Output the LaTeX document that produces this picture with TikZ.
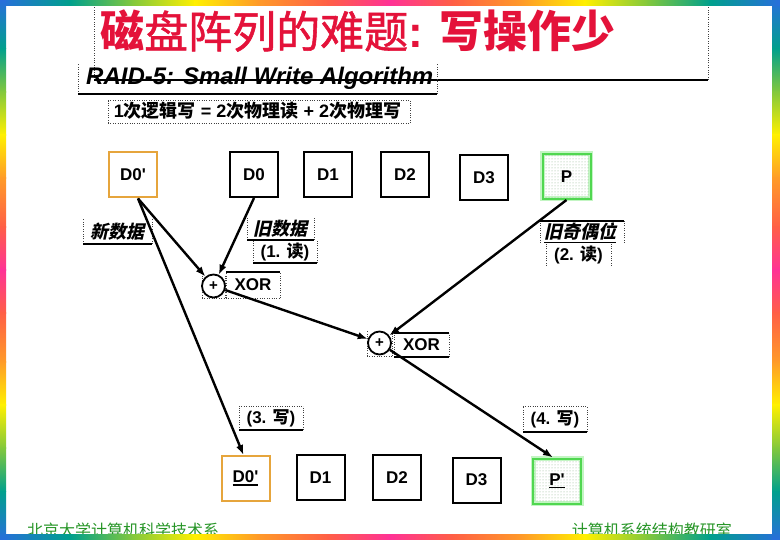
\documentclass[tikz,border=0pt]{standalone}
\usepackage{fontspec}
\setmainfont{Liberation Sans}
\newfontfamily\cjk{Noto Sans CJK SC}
\newfontfamily\cjkm[FakeBold=1.2]{Noto Sans CJK SC}
\newfontfamily\cjksl[FakeSlant=0.22]{Noto Sans CJK SC}
\usetikzlibrary{arrows.meta,patterns}
\newcommand\fsz[1]{\fontsize{#1}{#1}\selectfont}
\newcommand\myul[1]{\leavevmode\setbox0\hbox{#1}\rlap{\rule[-3pt]{\wd0}{1.6pt}}\box0}
\definecolor{titlered}{RGB}{228,18,58}
\definecolor{boxorange}{RGB}{230,165,60}
\definecolor{boxgreen}{RGB}{80,215,80}
\definecolor{glowgreen}{RGB}{195,245,195}
\definecolor{dotgreen}{RGB}{140,180,140}
\definecolor{footgreen}{RGB}{40,150,40}
\definecolor{rbB}{RGB}{40,110,220}
\definecolor{rbT}{RGB}{0,160,140}
\definecolor{rbG}{RGB}{130,200,60}
\definecolor{rbY}{RGB}{255,240,0}
\definecolor{rbO}{RGB}{255,155,40}
\definecolor{rbC}{RGB}{255,95,70}
\definecolor{rbP}{RGB}{255,50,150}
\tikzset{
  dotline/.style={line width=0.8pt, dash pattern=on 0.8pt off 1.6pt, black!75},
  solidline/.style={line width=1.2pt, black},
  ph/.style={inner sep=0pt, outer sep=0pt, append after command={
     (\tikzlastnode.south west) edge[dotline] (\tikzlastnode.north west)
     (\tikzlastnode.south east) edge[dotline] (\tikzlastnode.north east)}},
  phtd/.style={append after command={(\tikzlastnode.north west) edge[dotline] (\tikzlastnode.north east)}},
  phts/.style={append after command={(\tikzlastnode.north west) edge[solidline] (\tikzlastnode.north east)}},
  phbd/.style={append after command={(\tikzlastnode.south west) edge[dotline] (\tikzlastnode.south east)}},
  phbs/.style={append after command={(\tikzlastnode.south west) edge[solidline] (\tikzlastnode.south east)}},
  dbox/.style={draw, line width=2pt, minimum width=48pt, minimum height=45pt, inner sep=0pt,
     font=\bfseries\fsz{17}},
  obox/.style={dbox, draw=boxorange},
  gbox/.style={dbox, draw=boxgreen, preaction={draw=glowgreen, line width=5pt},
     pattern=dots, pattern color=dotgreen},
  xorc/.style={circle, draw, line width=1.8pt, minimum size=23pt, inner sep=0pt,
     font=\bfseries\fsz{15}},
  arr/.style={line width=2.4pt, -{Latex[length=10pt,width=7.5pt]}},
  lbl/.style={font=\bfseries\fsz{17}},
}
\begin{document}
\begin{tikzpicture}[x=1pt,y=-1pt]
\useasboundingbox (0,0) rectangle (780,540);
\fill[white] (0,0) rectangle (780,540);

% placeholder frames
\node[ph, phbs, minimum width=614pt, minimum height=78pt] (titlefr) at (401,41) {};
\node[ph, phbs, minimum width=359pt, minimum height=30pt] (raidfr) at (257.5,79) {};
\node[ph, phtd, phbd, minimum width=302pt, minimum height=23pt] (subfr) at (259,111.5) {};

% title texts
\node[anchor=base west, inner sep=0pt, text=titlered] (title) at (100,48)
  {{\cjk\fsz{44}\bfseries 磁}{\cjkm\fsz{44}盘阵列的难题}{\fsz{44}\bfseries: }{\cjk\fsz{44}\bfseries 写操作少}};
\node[anchor=west, inner sep=0pt] (raid) at (86,78)
  {\bfseries\itshape\fsz{24}RAID-5: Small Write Algorithm};
\node[inner sep=0pt] (sub) at (257.5,111)
  {\bfseries\fsz{18}1{\cjk 次逻辑写} = 2{\cjk 次物理读} + 2{\cjk 次物理写}};

% top row
\node[obox] (d0p) at (133,175) {D0\textquotesingle};
\node[dbox] (d0) at (254,174.5) {D0};
\node[dbox] (d1) at (328,174.5) {D1};
\node[dbox] (d2) at (405,174.5) {D2};
\node[dbox] (d3) at (484,177.5) {D3};
\node[gbox] (p) at (566.5,176.5) {P};

% bottom row
\node[obox] (bd0p) at (245.5,478.5) {\myul{D0\textquotesingle}};
\node[dbox] (bd1) at (320.5,477.5) {D1};
\node[dbox] (bd2) at (397,477.5) {D2};
\node[dbox] (bd3) at (476.5,480) {D3};
\node[gbox] (bpp) at (557,481) {\myul{P\textquotesingle}};

% labels
\node[ph, phbs, minimum width=69pt, minimum height=25pt] (newl) at (117.5,231.5)
  {\cjksl\bfseries\fsz{18}新数据};
\node[ph, phbs, minimum width=67pt, minimum height=22pt] (oldl) at (280.5,229)
  {\cjksl\bfseries\fsz{18}旧数据};
\node[ph, phbs, minimum width=64pt, minimum height=23pt] (rd1) at (285,251.5)
  {\bfseries\fsz{17}(1. {\cjk 读})};
\node[ph, phbd, minimum width=23pt, minimum height=23pt] (x1f) at (213.5,286.5) {};
\node[xorc] (x1) at (213.5,286) {+};
\node[ph, phts, phbd, minimum width=54pt, minimum height=26pt, lbl] (x1l) at (253,285) {XOR};
\node[ph, phbd, minimum width=25pt, minimum height=25pt] (x2f) at (379.5,343.5) {};
\node[xorc] (x2) at (379.5,343) {+};
\node[ph, phts, phbs, minimum width=55pt, minimum height=24pt, lbl] (x2l) at (421.5,345) {XOR};
\node[ph, phts, minimum width=84pt, minimum height=22pt] (oddf) at (582,232) {};
\node[inner sep=0pt] (odd) at (580,233) {\cjksl\bfseries\fsz{18}\underline{旧奇偶位}};
\node[ph, minimum width=65pt, minimum height=23pt] (rd2) at (578.5,254.5)
  {\bfseries\fsz{17}(2. {\cjk 读})};
\node[ph, phtd, phbs, minimum width=64pt, minimum height=24pt] (wr3) at (271,418)
  {\bfseries\fsz{17}(3. {\cjk 写})};
\node[ph, phtd, phbs, minimum width=64pt, minimum height=26pt] (wr4) at (555,419)
  {\bfseries\fsz{17}(4. {\cjk 写})};

% connectors
\draw[arr] ([xshift=5pt]d0p.south) -- (x1);
\draw[arr] (d0.south) -- (x1);
\draw[arr] (p.south) -- (x2);
\draw[arr] (x1) -- (x2);
\draw[arr] (x2) -- ([xshift=-4pt]bpp.north);
\draw[arr] ([xshift=5pt]d0p.south) -- ([xshift=-2pt]bd0p.north);

% footer
\node[anchor=base west, inner sep=0pt, text=footgreen] (footl) at (27,536)
  {\cjk\fsz{16}北京大学计算机科学技术系};
\node[anchor=base east, inner sep=0pt, text=footgreen] (footr) at (732,536)
  {\cjk\fsz{16}计算机系统结构教研室};

% rainbow border
\foreach \a/\ca/\b/\cb in {0/rbB/0.09/rbT, 0.09/rbT/0.17/rbG, 0.17/rbG/0.25/rbY,
   0.25/rbY/0.33/rbO, 0.33/rbO/0.42/rbC, 0.42/rbC/0.5/rbP, 0.5/rbP/0.58/rbC,
   0.58/rbC/0.67/rbO, 0.67/rbO/0.75/rbY, 0.75/rbY/0.83/rbG, 0.83/rbG/0.91/rbT,
   0.91/rbT/1/rbB}{
  \shade[left color=\ca, right color=\cb] (\a*780-0.4,0) rectangle (\b*780+0.4,6);
  \shade[left color=\ca, right color=\cb] (\a*780-0.4,534) rectangle (\b*780+0.4,540);
  \shade[top color=\ca, bottom color=\cb] (0,\a*540-0.4) rectangle (6,\b*540+0.4);
  \shade[top color=\ca, bottom color=\cb] (772,\a*540-0.4) rectangle (780,\b*540+0.4);
}
\end{tikzpicture}
\end{document}
